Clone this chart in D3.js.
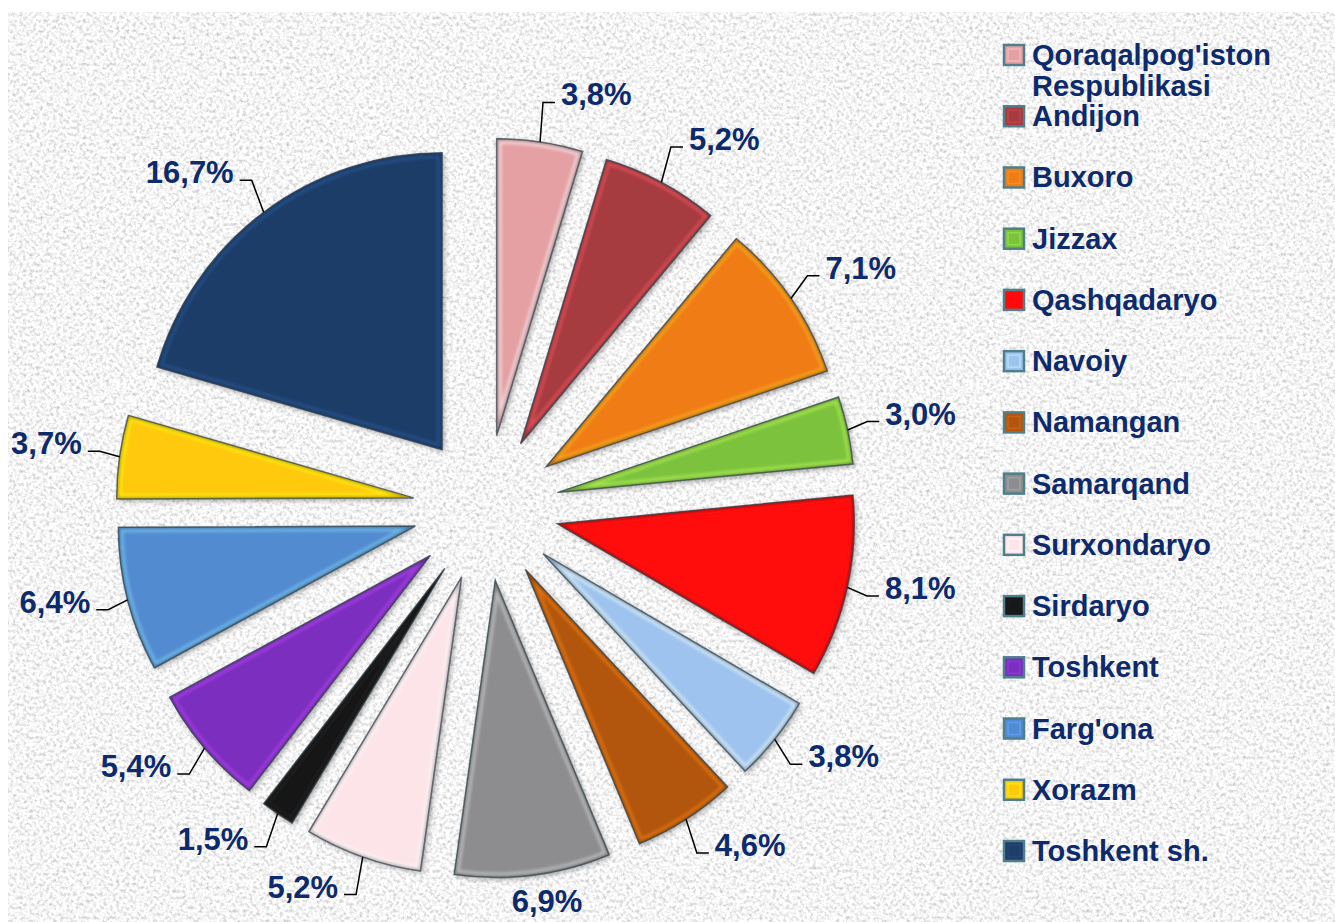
<!DOCTYPE html>
<html>
<head>
<meta charset="utf-8">
<script src="https://cdn.jsdelivr.net/npm/d3@7"></script>
<style>
  html, body { margin: 0; padding: 0; background: #fff; }
  svg { display: block; }
</style>
</head>
<body>
<svg id="chart"></svg>
<script>
const regions = [
    "Qoraqalpog'iston Respublikasi", 'Andijon', 'Buxoro', 'Jizzax', 'Qashqadaryo',
    'Navoiy', 'Namangan', 'Samarqand', 'Surxondaryo', 'Sirdaryo',
    'Toshkent', "Farg'ona", 'Xorazm', 'Toshkent sh.'
];
const shares = [3.8, 5.2, 7.1, 3.0, 8.1, 3.8, 4.6, 6.9, 5.2, 1.5, 5.4, 6.4, 3.7, 16.7];
const palette = [
    '#e4a0a3', '#a63b40', '#f07c16', '#7cc23c', '#ff0a0a',
    '#9dc3ee', '#b2560f', '#8d8d8f', '#fce4e8', '#181818',
    '#7b2fbe', '#528bd0', '#ffc90c', '#1e3d68'
];

const svgWidth = 1335;
const svgHeight = 922;
const cx = 486, cy = 508;
const radius = 297;
const explode = 73;
const textColor = '#0c2a6c';

const svg = d3.select('#chart')
    .attr('width', svgWidth)
    .attr('height', svgHeight);

const defs = svg.append('defs');

// granite background
const granite = defs.append('filter')
    .attr('id', 'granite')
    .attr('x', 0).attr('y', 0).attr('width', '100%').attr('height', '100%');
granite.append('feTurbulence')
    .attr('type', 'fractalNoise')
    .attr('baseFrequency', 0.3)
    .attr('numOctaves', 4)
    .attr('seed', 7)
    .attr('result', 'noise');
granite.append('feColorMatrix')
    .attr('in', 'noise')
    .attr('type', 'matrix')
    .attr('values', '0.95 0 0 0 0.44  0.95 0 0 0 0.44  0.95 0 0 0 0.44  0 0 0 0 1');

const soft = defs.append('filter').attr('id', 'soft');
soft.append('feGaussianBlur').attr('stdDeviation', 1.6);

const shadow = defs.append('filter')
    .attr('id', 'shadow')
    .attr('x', '-10%').attr('y', '-10%').attr('width', '120%').attr('height', '120%');
shadow.append('feDropShadow')
    .attr('dx', 2).attr('dy', 2)
    .attr('stdDeviation', 2.5)
    .attr('flood-color', '#000')
    .attr('flood-opacity', 0.35);

svg.append('rect')
    .attr('x', 8).attr('y', 12)
    .attr('width', svgWidth - 8).attr('height', svgHeight - 12)
    .attr('filter', 'url(#granite)');

const color = d3.scaleOrdinal().domain(regions).range(palette);

const pie = d3.pie().sort(null).value(d => d.value);
const arcs = pie(regions.map((r, i) => ({ name: r, value: shares[i] })));

const arc = d3.arc().innerRadius(0).outerRadius(radius);

const dir = a => [Math.sin(a), -Math.cos(a)];
const mid = d => (d.startAngle + d.endAngle) / 2;

const pieG = svg.append('g')
    .attr('transform', `translate(${cx}, ${cy})`);

const slices = pieG.selectAll('.slice')
    .data(arcs)
    .enter().append('g')
    .attr('class', 'slice')
    .attr('transform', d => {
        const [ux, uy] = dir(mid(d));
        return `translate(${ux * explode}, ${uy * explode})`;
    });

slices.append('clipPath')
    .attr('id', (d, i) => 'clip' + i)
    .append('path')
    .attr('d', arc);

slices.append('path')
    .attr('d', arc)
    .attr('fill', d => color(d.data.name))
    .attr('filter', 'url(#shadow)');

// bevel: soft light rim inside, dark edge outside
slices.append('path')
    .attr('d', arc)
    .attr('fill', 'none')
    .attr('stroke', d => d3.color(color(d.data.name)).brighter(1.2))
    .attr('stroke-opacity', 0.6)
    .attr('stroke-width', 10)
    .attr('filter', 'url(#soft)')
    .attr('clip-path', (d, i) => `url(#clip${i})`);

slices.append('path')
    .attr('d', arc)
    .attr('fill', 'none')
    .attr('stroke', d => d3.color(color(d.data.name)).darker(1.3))
    .attr('stroke-width', 4)
    .attr('stroke-opacity', 0.65)
    .attr('filter', 'url(#soft)')
    .attr('clip-path', (d, i) => `url(#clip${i})`);

slices.append('path')
    .attr('d', arc)
    .attr('fill', 'none')
    .attr('stroke', '#33434d')
    .attr('stroke-opacity', 0.75)
    .attr('stroke-width', 1.5);

// data labels with leader lines
const fmt = v => v.toFixed(1).replace('.', ',') + '%';
const outerR = radius + explode;
const elbowRx = 390;
const elbowRy = 410;

const labels = pieG.selectAll('.lbl')
    .data(arcs)
    .enter().append('g')
    .attr('class', 'lbl');

labels.each(function(d) {
    const g = d3.select(this);
    const [ux, uy] = dir(mid(d));
    const p0 = [ux * outerR, uy * outerR];
    const txt = g.append('text')
        .attr('font-family', 'Liberation Sans, Arial, sans-serif')
        .attr('font-weight', 'bold')
        .attr('font-size', '31px')
        .attr('fill', textColor)
        .text(fmt(d.data.value));
    if (uy > 0.95) {
        // bottom label sits just under the slice, no leader
        txt.attr('x', p0[0] + 14).attr('y', p0[1] + 37).attr('text-anchor', 'middle');
        return;
    }
    const p1 = [ux * elbowRx, uy * elbowRy];
    const side = ux >= 0 ? 1 : -1;
    const p2 = [p1[0] + side * 12, p1[1]];
    g.insert('path', 'text')
        .attr('d', d3.line()([p0, p1, p2]))
        .attr('fill', 'none')
        .attr('stroke', '#000')
        .attr('stroke-width', 1.5);
    txt.attr('x', p1[0] + side * 18)
        .attr('y', p1[1] + 3)
        .attr('text-anchor', side > 0 ? 'start' : 'end');
});

// legend
const rowY = d3.scalePoint().domain(regions).range([55, 851]);

const legend = svg.append('g')
    .attr('transform', 'translate(1004, 0)');

const items = legend.selectAll('.item')
    .data(regions)
    .enter().append('g')
    .attr('class', 'item')
    .attr('transform', d => `translate(0, ${rowY(d)})`);

items.append('rect')
    .attr('x', 0).attr('y', -10)
    .attr('width', 20).attr('height', 20)
    .attr('fill', d => color(d))
    .attr('stroke', '#4f7f8a')
    .attr('stroke-width', 2.5);

items.append('rect')
    .attr('x', 4).attr('y', -6)
    .attr('width', 12).attr('height', 12)
    .attr('fill', 'none')
    .attr('stroke', d => d3.color(color(d)).brighter(0.6))
    .attr('stroke-opacity', 0.6)
    .attr('stroke-width', 1.5);

items.append('text')
    .attr('x', 28)
    .attr('y', 10)
    .attr('font-family', 'Liberation Sans, Arial, sans-serif')
    .attr('font-weight', 'bold')
    .attr('font-size', '29px')
    .attr('fill', textColor)
    .each(function(d) {
        const t = d3.select(this);
        const words = d.split(' ');
        if (words.length > 1 && d.length > 16) {
            words.forEach((w, k) => {
                t.append('tspan')
                    .attr('x', 28)
                    .attr('dy', k === 0 ? 0 : 31)
                    .text(w);
            });
        } else {
            t.text(d);
        }
    });
</script>
</body>
</html>
